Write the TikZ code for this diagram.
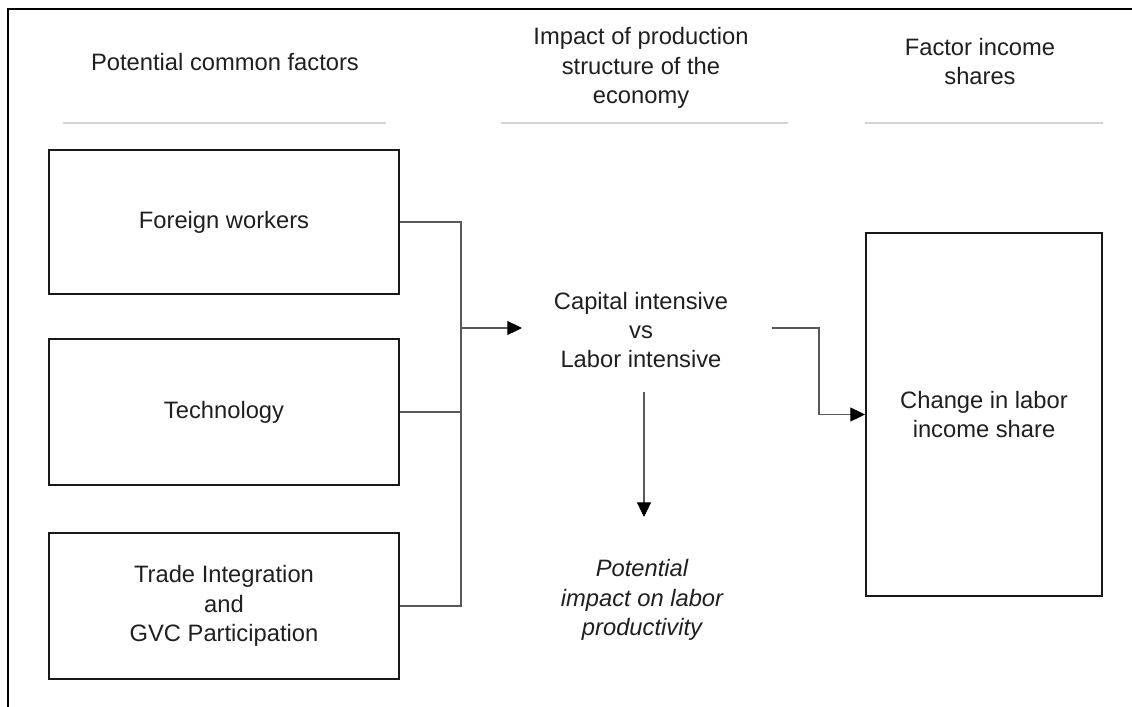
\documentclass[tikz,border=0pt]{standalone}
\usepackage{fontspec}
\setmainfont{Liberation Sans}
\usetikzlibrary{arrows.meta}
\newcommand\basefont{\fontsize{17.8pt}{22pt}\selectfont}
\begin{document}
\begin{tikzpicture}[x=0.75pt,y=-0.75pt,
  every node/.style={font=\basefont, align=center, inner sep=0pt, text=black!88},
  factorbox/.style={draw=black!90, line width=1.5pt, minimum width=262.5pt},
  conn/.style={draw=black!65, line width=0.8pt},
  arr/.style={conn, -{Triangle[length=11pt,width=10.5pt,color=black]}},
  rulegray/.style={draw=black!17, line width=1.3pt},
  frameline/.style={draw=black, line width=1pt}]
\useasboundingbox (0,0) rectangle (1132,707);
% frame (cropped)
\draw[frameline] (8,707) -- (8,9) -- (1132,9);
% headers
\node (h1) at (225,62) {Potential common factors};
\node (h2) at (641,68) {Impact of production\\structure of the\\economy};
\node (h3) at (980,61.5) {Factor income\\shares};
\draw[rulegray] (63,123) -- (386,123);
\draw[rulegray] (501,123) -- (788,123);
\draw[rulegray] (865,123) -- (1103,123);
% boxes
\node[factorbox, minimum height=108pt] (fw) at (224,222) {Foreign workers};
\node[factorbox, minimum height=109.5pt] (tech) at (224,412) {Technology};
\node[factorbox, minimum height=109.5pt] (trade) at (224,606) {Trade Integration\\and\\GVC Participation};
\node[factorbox, minimum width=177pt, minimum height=272.25pt] (lis) at (984,414.5) {Change in labor\\income share};
\node (mid) at (641,330) {Capital intensive\\vs\\Labor intensive};
\node[font=\basefont\itshape] (prod) at (642,600) {Potential\\impact on labor\\productivity};
% connectors
\coordinate (jt) at (461,222);
\coordinate (jm) at (461,328);
\coordinate (jb) at (461,606);
\coordinate (ain) at (522,328);
\coordinate (aout) at (772,328);
\coordinate (bend) at (819,328);
\coordinate (dtop) at (644,392);
\coordinate (dbot) at (644,517);
\draw[conn] (fw.east) -- (jt) -- (jb) -- (trade.east);
\draw[conn] (tech.east) -- (tech.east -| jt);
\draw[arr] (jm) -- (ain);
\draw[arr] (aout) -- (bend) |- (lis.west);
\draw[arr] (dtop) -- (dbot);
\end{tikzpicture}
\end{document}
